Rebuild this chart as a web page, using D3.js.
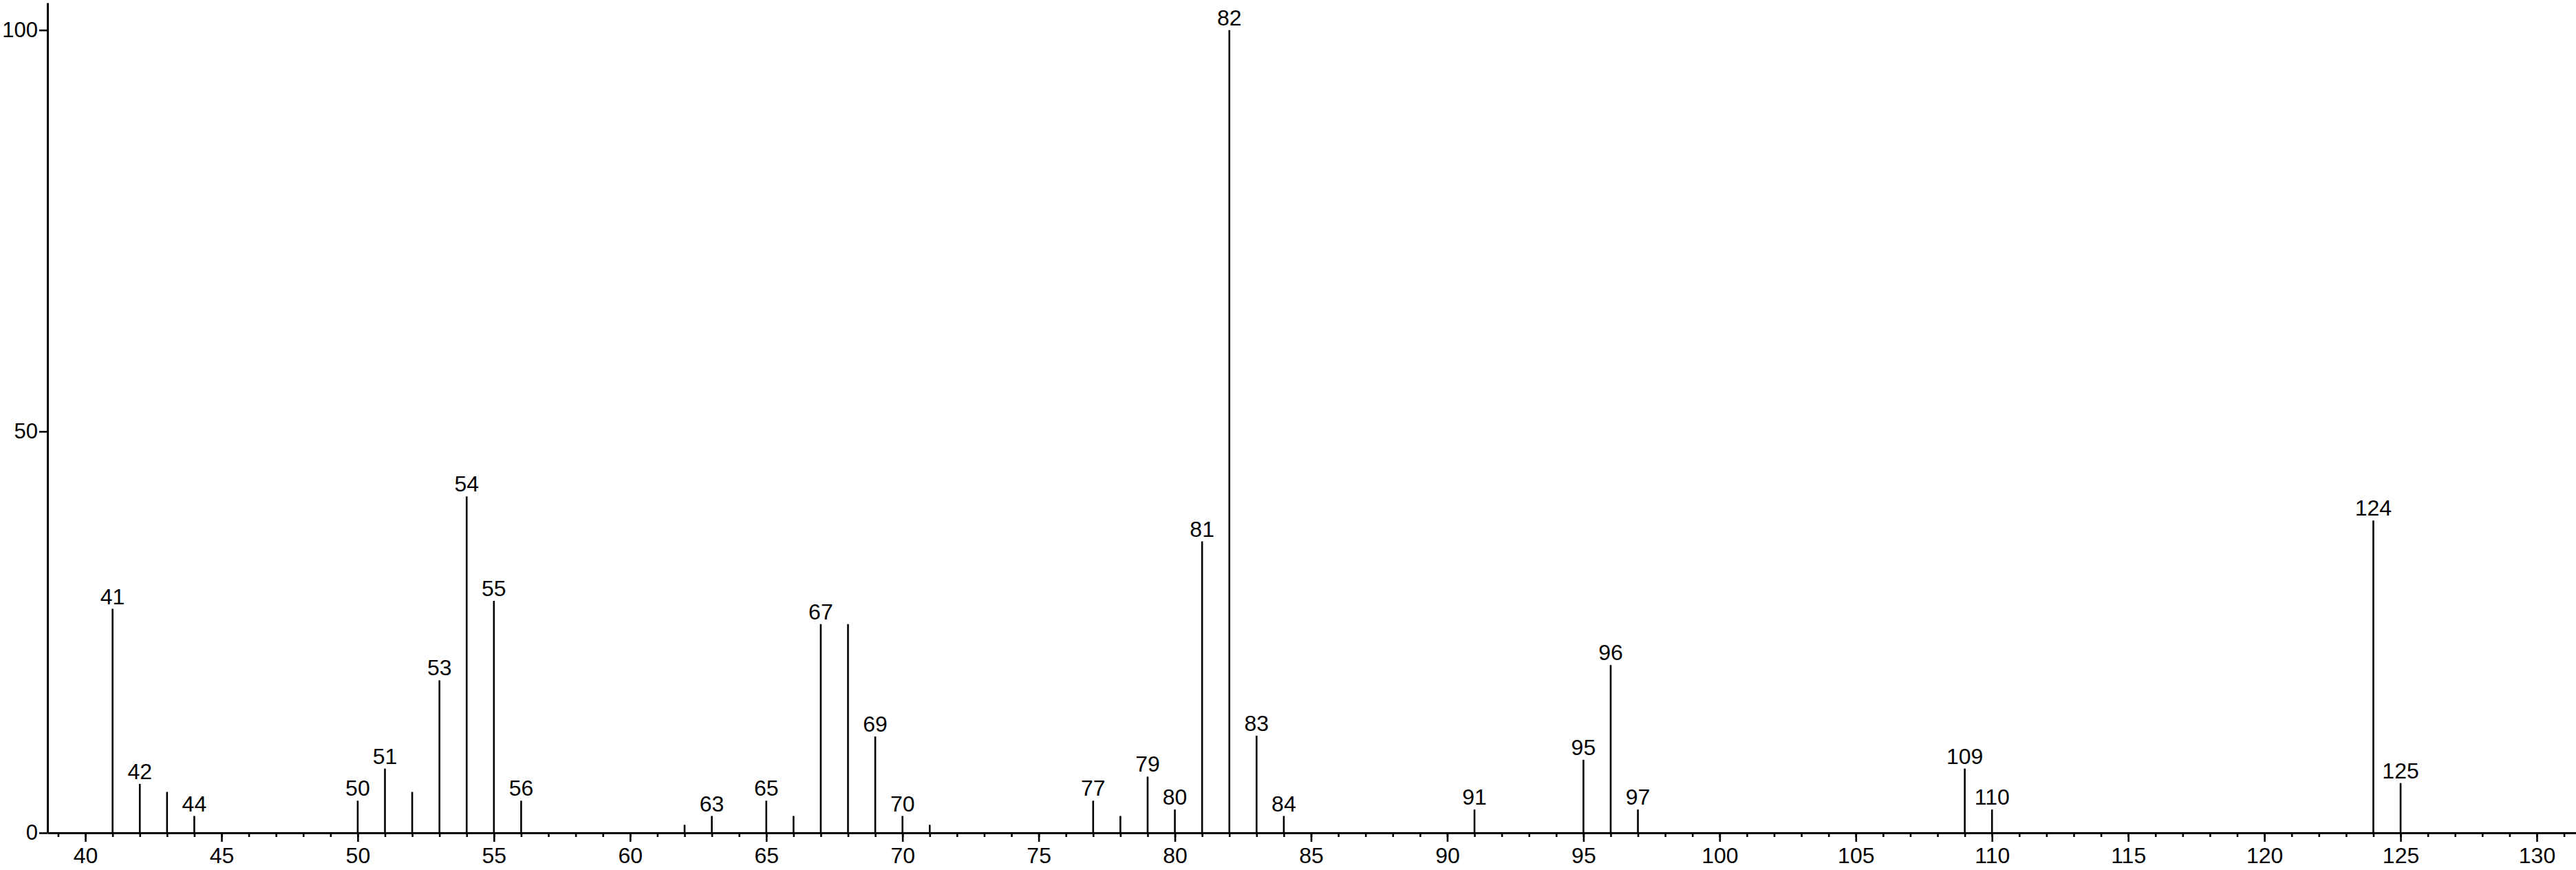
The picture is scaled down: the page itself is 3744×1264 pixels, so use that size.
<!DOCTYPE html>
<html>
<head>
<meta charset="utf-8">
<script src="https://cdn.jsdelivr.net/npm/d3@7"></script>
<style>
  html, body { margin: 0; padding: 0; background: #fff; }
  svg { display: block; }
  text { font-family: "Liberation Sans", Arial, Helvetica, sans-serif; fill: #000; }
</style>
</head>
<body>
<script>
// m/z values of the peaks
const mz = [41, 42, 43, 44, 50, 51, 52, 53, 54, 55, 56, 62, 63, 65, 66, 67, 68, 69, 70, 71,
            77, 78, 79, 80, 81, 82, 83, 84, 91, 95, 96, 97, 109, 110, 124, 125];
// relative intensities (%)
const intensity = [27.9, 6.1, 5.1, 2.1, 4.0, 8.0, 5.1, 19.0, 41.9, 28.9, 4.0, 1.0, 2.1, 4.0, 2.1, 26.0, 26.0, 12.0, 2.1, 1.0,
                   4.0, 2.1, 7.0, 2.9, 36.3, 100, 12.1, 2.1, 2.9, 9.1, 20.9, 2.9, 8.0, 2.9, 38.9, 6.2];
// peaks that carry an m/z label
const labeledPeaks = [41, 42, 44, 50, 51, 53, 54, 55, 56, 63, 65, 67, 69, 70, 77, 79, 80, 81, 82, 83, 84,
                      91, 95, 96, 97, 109, 110, 124, 125];
// axis ticks
const xMajorTicks = [40, 45, 50, 55, 60, 65, 70, 75, 80, 85, 90, 95, 100, 105, 110, 115, 120, 125, 130];
const xMinorTicks = d3.range(39, 132);
const yTicks = [0, 50, 100];

const W = 3744, H = 1264;
const FONT = 32;

const svg = d3.select("body").append("svg").attr("width", W).attr("height", H);

const x = d3.scaleLinear().domain([38.61, 131.44]).range([69, 3744]);
const y = d3.scaleLinear().domain([0, 103.4]).range([1210, 4]);

const peaks = mz.map((m, i) => ({ m, v: intensity[i] }));
const labelSet = new Set(labeledPeaks);

// stems
svg.append("g").selectAll("line").data(peaks).join("line")
  .attr("x1", d => x(d.m)).attr("x2", d => x(d.m))
  .attr("y1", y(0)).attr("y2", d => y(d.v))
  .attr("stroke", "#000").attr("stroke-width", 2.6);

// peak labels
svg.append("g").selectAll("text").data(peaks.filter(d => labelSet.has(d.m))).join("text")
  .attr("x", d => x(d.m)).attr("y", d => y(d.v) - 7)
  .attr("text-anchor", "middle").attr("font-size", FONT)
  .text(d => d.m);

// x axis: minor ticks
const xMinor = d3.axisBottom(x).tickValues(xMinorTicks).tickSize(6).tickFormat("");
const gMinor = svg.append("g").attr("transform", `translate(0,${y(0)})`).call(xMinor);
gMinor.select(".domain").remove();
gMinor.selectAll(".tick line").attr("stroke", "#000").attr("stroke-width", 2.6);

// x axis: major ticks with labels
const xMajor = d3.axisBottom(x).tickValues(xMajorTicks).tickSize(13).tickPadding(8).tickSizeOuter(0).tickFormat(d3.format("d"));
const gx = svg.append("g").attr("transform", `translate(0,${y(0)})`).call(xMajor);
gx.select(".domain").attr("stroke", "#000").attr("stroke-width", 3);
gx.selectAll(".tick line").attr("stroke", "#000").attr("stroke-width", 2.6);
gx.selectAll(".tick text").attr("font-size", FONT).attr("font-family", "Liberation Sans, Arial, sans-serif").attr("fill", "#000");

// y axis
const yAxis = d3.axisLeft(y).tickValues(yTicks).tickSize(12).tickPadding(2).tickSizeOuter(0).tickFormat(d3.format("d"));
const gy = svg.append("g").attr("transform", `translate(69,0)`).call(yAxis);
gy.select(".domain").attr("stroke", "#000").attr("stroke-width", 3);
gy.selectAll(".tick line").attr("stroke", "#000").attr("stroke-width", 2.6);
gy.selectAll(".tick text").attr("font-size", 31).attr("font-family", "Liberation Sans, Arial, sans-serif").attr("fill", "#000");
</script>
</body>
</html>
